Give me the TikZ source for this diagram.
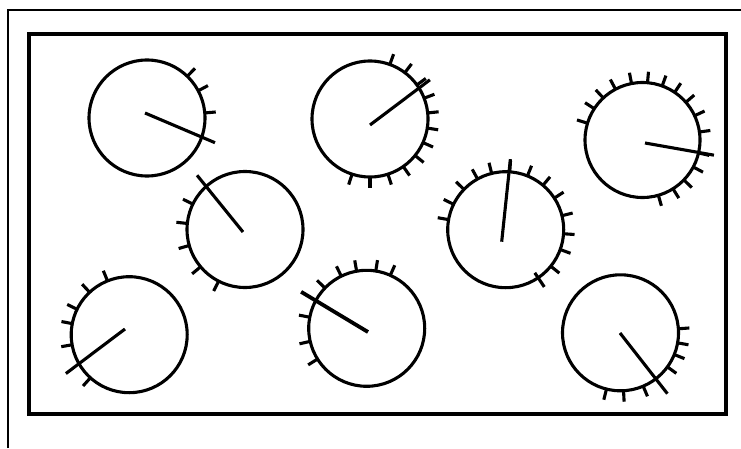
\documentclass[tikz,border=0pt]{standalone}
\begin{document}
\begin{tikzpicture}[x=1pt,y=1pt,line width=3.1pt]
\useasboundingbox (0,0) rectangle (741,448);
\draw[line width=2.2pt] (8,0) -- (8,438) -- (741,438);
\draw[line width=3.4pt] (29,34) rectangle (726,414);

% top row
\coordinate (d1) at (147,330);
\draw (d1) circle (58);
\foreach \a in {46,28,5} \draw (d1) ++(\a:57) -- ++(\a:12);
\draw (145,335) -- ++(-23:76);

\coordinate (d2) at (370,329);
\draw (d2) circle (58);
\foreach \a in {70,53,36,21,6,-9,-24,-39,-55,-72,-90,-108} \draw (d2) ++(\a:57) -- ++(\a:12);
\draw (370,323) -- ++(37:75);

\coordinate (d3) at (642.5,308);
\draw (d3) circle (57.5);
\foreach \a in {163,147,133,118,101,85,70,56,41,25,8,-13,-28,-44,-58,-74} \draw (d3) ++(\a:56.5) -- ++(\a:12);
\draw (645,305) -- ++(-10:70);

% middle row
\coordinate (d4) at (245,218.5);
\draw (d4) circle (58);
\foreach \a in {154,174,196,220,243} \draw (d4) ++(\a:57) -- ++(\a:12);
\draw (243,216) -- ++(129:73);

\coordinate (d5) at (505.7,218.3);
\draw (d5) circle (58);
\foreach \a in {170,154,136,119,104,86,68,50,33,14,-4,-20,-39} \draw (d5) ++(\a:57) -- ++(\a:12);
\draw (d5) ++(-56:52) -- ++(-56:17);
\draw (501.7,206.3) -- ++(84:83);

% bottom row
\coordinate (d6) at (129.2,113.3);
\draw (d6) circle (58);
\foreach \a in {112,133,154,169,190,228} \draw (d6) ++(\a:57) -- ++(\a:12);
\draw (125,119) -- ++(217:74);

\coordinate (d7) at (366.7,119.7);
\draw (d7) circle (58);
\foreach \a in {66,81,100,116,136,169,193,212} \draw (d7) ++(\a:57) -- ++(\a:12);
\draw[line width=3.8pt] (368,116) -- ++(149:78);

\coordinate (d8) at (620.5,115.2);
\draw (d8) circle (58);
\foreach \a in {4,-10,-22,-36,-67,-87,-104} \draw (d8) ++(\a:57) -- ++(\a:12);
\draw (620,115) -- ++(-52:77);
\end{tikzpicture}
\end{document}
